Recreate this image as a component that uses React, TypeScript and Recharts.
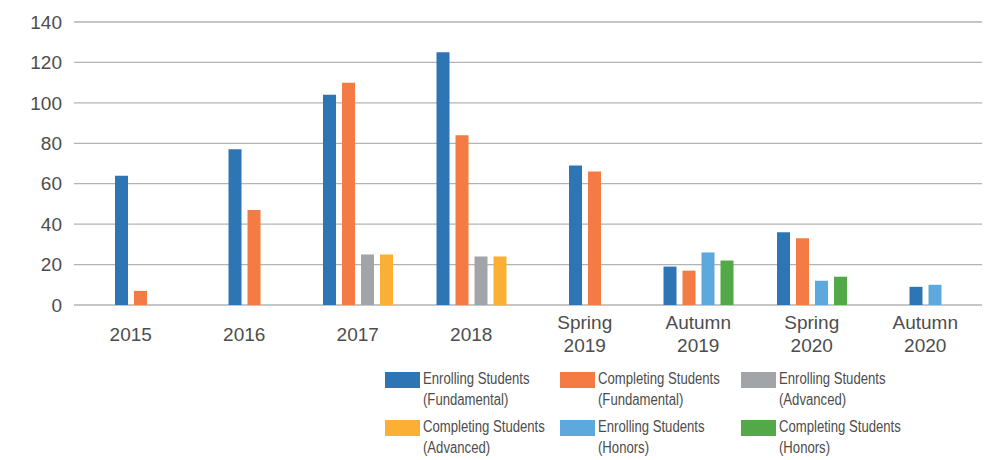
import { BarChart, Bar, XAxis, YAxis, CartesianGrid } from "recharts";

const categories = ["2015", "2016", "2017", "2018", "Spring 2019", "Autumn 2019", "Spring 2020", "Autumn 2020"];
const enrollFundamental = [64, 77, 104, 125, 69, 19, 36, 9];
const completeFundamental = [7, 47, 110, 84, 66, 17, 33, 0];
const enrollAdvanced = [0, 0, 25, 24, 0, 0, 0, 0];
const completeAdvanced = [0, 0, 25, 24, 0, 0, 0, 0];
const enrollHonors = [0, 0, 0, 0, 0, 26, 12, 10];
const completeHonors = [0, 0, 0, 0, 0, 22, 14, 0];
const yTicks = [0, 20, 40, 60, 80, 100, 120, 140];

const series = [
  { key: "ef", label: ["Enrolling Students", "(Fundamental)"], color: "#2e75b6", values: enrollFundamental },
  { key: "cf", label: ["Completing Students", "(Fundamental)"], color: "#f47b43", values: completeFundamental },
  { key: "ea", label: ["Enrolling Students", "(Advanced)"], color: "#a2a5a8", values: enrollAdvanced },
  { key: "ca", label: ["Completing Students", "(Advanced)"], color: "#fbaf34", values: completeAdvanced },
  { key: "eh", label: ["Enrolling Students", "(Honors)"], color: "#5da9dd", values: enrollHonors },
  { key: "ch", label: ["Completing Students", "(Honors)"], color: "#53a947", values: completeHonors },
];

// each category only shows its non-zero series, centred in 4 slots
const SLOTS = 4;
const rows = categories.map((cat, i) => {
  const row: Record<string, string | number> = { cat };
  const shown = series.filter((s) => s.values[i] > 0);
  const start = Math.floor((SLOTS - shown.length) / 2);
  shown.forEach((s, j) => {
    row[`${s.key}_${start + j}`] = s.values[i];
  });
  return row;
});

const bars: { id: string; slot: number; color: string }[] = [];
for (let slot = 0; slot < SLOTS; slot++) {
  series.forEach((s) => {
    const id = `${s.key}_${slot}`;
    if (rows.some((r) => r[id] !== undefined)) bars.push({ id, slot, color: s.color });
  });
}
rows.forEach((r) => bars.forEach((b) => { if (r[b.id] === undefined) r[b.id] = 0; }));

const FONT = '"Liberation Sans", Arial, sans-serif';

const XTick = (props: any) => {
  const { x, y, payload } = props;
  const lines = String(payload.value).split(" ");
  const offs = lines.length === 1 ? [36] : [23.5, 47];
  return (
    <g>
      {lines.map((l, k) => (
        <text key={k} x={x} y={y + offs[k]} textAnchor="middle" fontSize={19} fill="#4d4d4d" fontFamily={FONT}>
          {l}
        </text>
      ))}
    </g>
  );
};

const legendCols = [385, 560, 741];
const legendRows = [372, 420];

export default function App() {
  return (
    <div style={{ position: "absolute", left: 0, top: 0, width: 986, height: 460, background: "#fff" }}>
      <BarChart
        width={986}
        height={460}
        data={rows}
        margin={{ top: 22, right: 4, bottom: 95, left: 0 }}
        barSize={13}
        barGap={6}
      >
        <CartesianGrid vertical={false} stroke="#b3b3b3" strokeWidth={1.3} />
        <XAxis
          dataKey="cat"
          axisLine={false}
          tickLine={false}
          tickSize={0}
          tickMargin={0}
          height={60}
          interval={0}
          tick={(p: any) => <XTick {...p} />}
        />
        <YAxis
          domain={[0, 140]}
          ticks={yTicks}
          width={74}
          axisLine={false}
          tickLine={false}
          tickSize={0}
          tickMargin={12}
          tick={{ fontSize: 19, fill: "#4d4d4d", fontFamily: FONT }}
        />
        {bars.map((b) => (
          <Bar key={b.id} dataKey={b.id} stackId={`slot${b.slot}`} fill={b.color} isAnimationActive={false} />
        ))}
      </BarChart>
      {series.map((s, i) => {
        const left = legendCols[i % 3];
        const top = legendRows[Math.floor(i / 3)];
        return (
          <div key={s.key}>
            <div style={{ position: "absolute", left, top, width: 35, height: 16, background: s.color }} />
            <div
              style={{
                position: "absolute",
                left: left + 38,
                top: top - 4,
                fontFamily: FONT,
                fontSize: 16,
                lineHeight: "21px",
                color: "#4d4d4d",
                whiteSpace: "nowrap",
                transform: "scaleX(0.82)",
                transformOrigin: "0 0",
              }}
            >
              {s.label[0]}
              <br />
              {s.label[1]}
            </div>
          </div>
        );
      })}
    </div>
  );
}
